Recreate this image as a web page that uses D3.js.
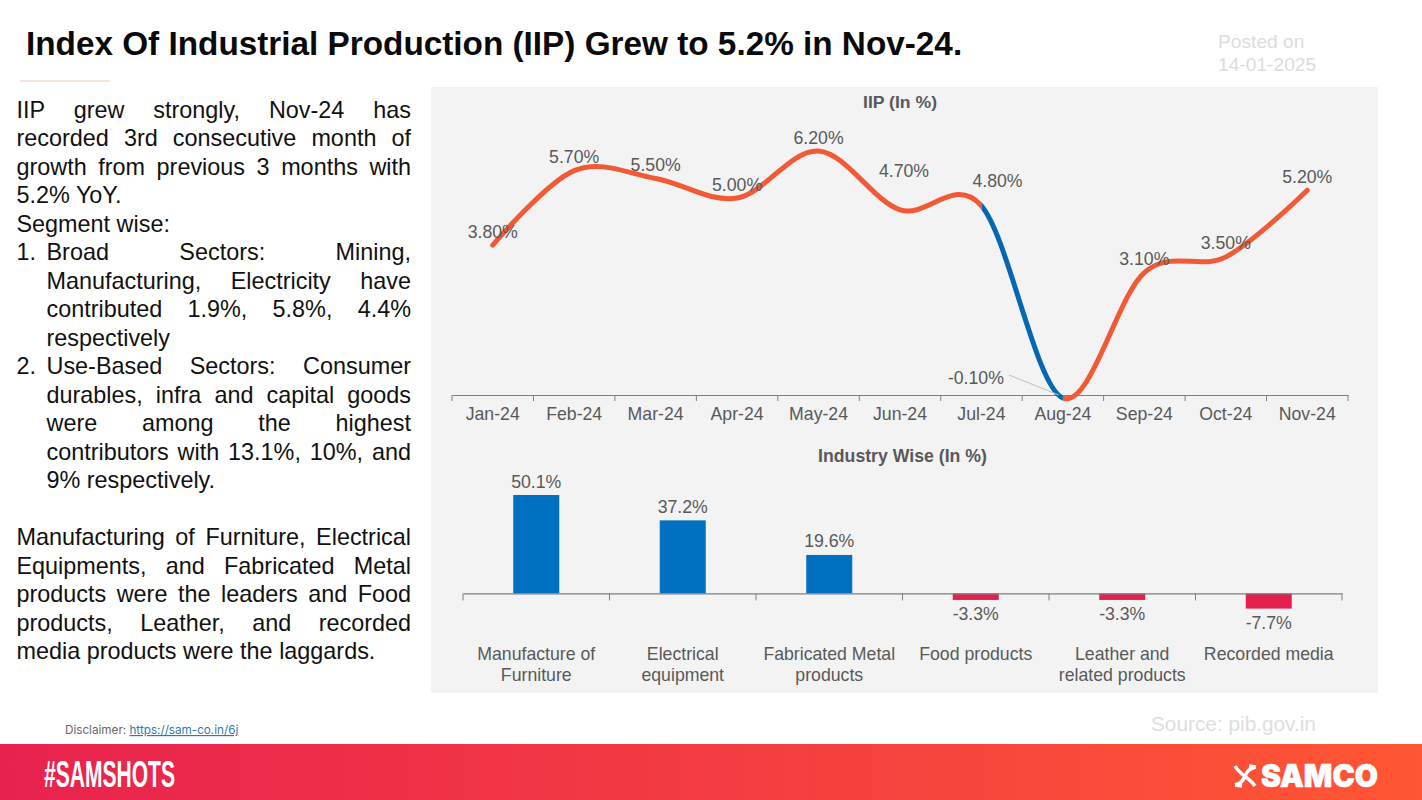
<!DOCTYPE html>
<html><head><meta charset="utf-8">
<script src="https://cdnjs.cloudflare.com/ajax/libs/d3/7.8.5/d3.min.js"></script>
<style>
html,body{margin:0;padding:0;background:#fff;width:1422px;height:800px;overflow:hidden}
#wrap{position:relative;width:1422px;height:800px}
svg{position:absolute;left:0;top:0}
#note{position:absolute;left:16.5px;top:95.5px;width:394.5px;font:23.4px/28.5px "Liberation Sans",Arial,sans-serif;color:#111;text-align:justify}
#note .li{position:relative;padding-left:30px}
#note .li b{position:absolute;left:0;font-weight:400}
#note .gap{height:28.5px}
text{font-family:"Liberation Sans",Arial,sans-serif}
</style></head><body><div id="wrap"><svg id="s" width="1422" height="800"></svg><div id="note"></div></div>
<script>
const months=["Jan-24","Feb-24","Mar-24","Apr-24","May-24","Jun-24","Jul-24","Aug-24","Sep-24","Oct-24","Nov-24"];
const iip=[3.8,5.7,5.5,5.0,6.2,4.7,4.8,-0.1,3.1,3.5,5.2];
const industries=[["Manufacture of","Furniture"],["Electrical","equipment"],["Fabricated Metal","products"],["Food products"],["Leather and","related products"],["Recorded media"]];
const industryGrowth=[50.1,37.2,19.6,-3.3,-3.3,-7.7];
const intro=["IIP grew strongly, Nov-24 has recorded 3rd consecutive month of growth from previous 3 months with 5.2% YoY.","Segment wise:"];
const points=["Broad Sectors: Mining, Manufacturing, Electricity have contributed 1.9%, 5.8%, 4.4% respectively","Use-Based Sectors: Consumer durables, infra and capital goods were among the highest contributors with 13.1%, 10%, and 9% respectively."];
const closing="Manufacturing of Furniture, Electrical Equipments, and Fabricated Metal products were the leaders and Food products, Leather, and recorded media products were the laggards.";

const svg=d3.select("#s");
const grey="#595959";
const chartFont=17.7;
const defs=svg.append("defs");
const g=defs.append("linearGradient").attr("id","foot");
g.append("stop").attr("offset","0").attr("stop-color","#e8224f");
g.append("stop").attr("offset","1").attr("stop-color","#ff5634");

// header
svg.append("text").attr("x",26).attr("y",54.5).attr("font-size",33.3).attr("font-weight",700).attr("fill","#0a0a0a").text("Index Of Industrial Production (IIP) Grew to 5.2% in Nov-24.");
svg.append("line").attr("x1",20).attr("x2",110).attr("y1",81).attr("y2",81).attr("stroke","#f6c9bd").attr("stroke-width",1);
[["Posted on",48],["14-01-2025",71]].forEach(([t,y])=>svg.append("text").attr("x",1218).attr("y",y).attr("font-size",19.2).attr("fill","#dcdcdc").text(t));

// left text
const note=d3.select("#note");
intro.forEach(t=>note.append("div").text(t));
points.forEach((t,i)=>{const d=note.append("div").attr("class","li");d.append("b").text((i+1)+".");d.append("span").text(t);});
note.append("div").attr("class","gap");
note.append("div").text(closing);

// panel
svg.append("rect").attr("x",431).attr("y",87).attr("width",947).attr("height",606).attr("fill","#f3f3f3");

// line chart
const x=d3.scaleBand().domain(months).range([452,1348]);
const y=d3.scaleLinear().domain([-0.1,6.2]).range([398,151]);
const at=(m)=>x(m)+x.bandwidth()/2;
svg.append("text").attr("x",900).attr("y",107.5).attr("text-anchor","middle").attr("font-weight",700).attr("fill",grey).text("IIP (In %)").attr("font-size",16).attr("textLength",74).attr("lengthAdjust","spacingAndGlyphs");
const ax=svg.append("g").attr("transform","translate(0,395)").call(d3.axisBottom(x).tickSize(0).tickPadding(12));
ax.selectAll("text").attr("font-size",chartFont).attr("fill",grey).attr("font-family","Liberation Sans");
ax.select(".domain").attr("stroke","#7f7f7f").attr("stroke-width",1.2);
ax.selectAll(".edge").data([...months.map(m=>x(m)),x.range()[1]]).enter().append("line").attr("class","edge").attr("x1",d=>d).attr("x2",d=>d).attr("y1",0).attr("y2",6).attr("stroke","#7f7f7f").attr("stroke-width",1);

const pts=months.map((m,i)=>[at(m),y(iip[i])]);
const lineGen=d3.line().curve(d3.curveCatmullRom.alpha(0));
const jul=months.indexOf("Jul-24"),aug=months.indexOf("Aug-24");
const julX=pts[jul][0],augX=pts[aug][0];
defs.append("clipPath").attr("id","dip").append("rect").attr("x",julX).attr("y",0).attr("width",augX-julX).attr("height",800);
const rest=defs.append("clipPath").attr("id","rest");
rest.append("rect").attr("x",0).attr("y",0).attr("width",julX).attr("height",800);
rest.append("rect").attr("x",augX).attr("y",0).attr("width",1422-augX).attr("height",800);
svg.append("path").attr("d",lineGen(pts)).attr("fill","none").attr("stroke","#f15a35").attr("stroke-width",5).attr("stroke-linecap","round").attr("clip-path","url(#rest)");
svg.append("path").attr("d",lineGen(pts)).attr("fill","none").attr("stroke","#0567b1").attr("stroke-width",5).attr("clip-path","url(#dip)");

// leader for the dip label
const labelShift={"Jun-24":[4,-39],"Jul-24":[16,-25],"Aug-24":[-87,-21]};
svg.append("line").attr("x1",pts[aug][0]-54).attr("y1",pts[aug][1]-23).attr("x2",pts[aug][0]-4).attr("y2",pts[aug][1]-3).attr("stroke","#bfbfbf").attr("stroke-width",1);
svg.append("g").selectAll("text").data(iip).enter().append("text")
 .attr("x",(d,i)=>pts[i][0]+(labelShift[months[i]]||[0,-14])[0])
 .attr("y",(d,i)=>pts[i][1]+(labelShift[months[i]]||[0,-14])[1]+6.5)
 .attr("text-anchor","middle").attr("font-size",chartFont).attr("fill",grey).text(d=>d.toFixed(2)+"%");

// bars
const bx=d3.scaleBand().domain(industries.map(d=>d.join(" "))).range([463,1342]);
const by=d3.scaleLinear().domain([-7.7,50.1]).range([608.6,495]);
svg.append("text").attr("x",902.5).attr("y",462).attr("text-anchor","middle").attr("font-size",chartFont).attr("font-weight",700).attr("fill",grey).text("Industry Wise (In %)");
const barW=46;
svg.append("g").selectAll("rect").data(industryGrowth).enter().append("rect")
 .attr("x",(d,i)=>bx(industries[i].join(" "))+bx.bandwidth()/2-barW/2)
 .attr("y",d=>by(Math.max(d,0))).attr("width",barW)
 .attr("height",d=>Math.abs(by(d)-by(0)))
 .attr("fill",d=>d>=0?"#0070c0":"#e4204f");
const bax=svg.append("g").attr("transform",`translate(0,${by(0)})`).call(d3.axisBottom(bx).tickSize(0).tickFormat(""));
bax.select(".domain").attr("stroke","#7f7f7f").attr("stroke-width",1.2);
bax.selectAll(".edge").data([...bx.domain().map(c=>bx(c)),bx.range()[1]]).enter().append("line").attr("class","edge").attr("x1",d=>d).attr("x2",d=>d).attr("y1",0).attr("y2",7).attr("stroke","#7f7f7f");
svg.append("g").selectAll("text").data(industryGrowth).enter().append("text")
 .attr("x",(d,i)=>bx(industries[i].join(" "))+bx.bandwidth()/2)
 .attr("y",d=>d>=0?by(d)-7.5:by(d)+20.5)
 .attr("text-anchor","middle").attr("font-size",chartFont).attr("fill",grey).text(d=>d.toFixed(1)+"%");
industries.forEach(lines=>{lines.forEach((t,j)=>{
 svg.append("text").attr("x",bx(lines.join(" "))+bx.bandwidth()/2).attr("y",660+j*21).attr("text-anchor","middle").attr("font-size",chartFont).attr("fill",grey).text(t);
});});

// footer
svg.append("text").attr("x",1151).attr("y",731).attr("font-size",20.8).attr("fill","#dedede").text("Source: pib.gov.in");
const dis=svg.append("text").attr("x",65).attr("y",734).attr("font-size",11.7).style("font-family","Inter").attr("fill","#666");
dis.append("tspan").text("Disclaimer: ");
dis.append("tspan").attr("fill","#2f7ba8").attr("text-decoration","underline").text("https://sam-co.in/6j");
svg.append("rect").attr("x",0).attr("y",744).attr("width",1422).attr("height",56).attr("fill","url(#foot)");
svg.append("text").attr("x",44).attr("y",787).attr("font-size",36).attr("font-weight",700).style("font-family","'Liberation Sans Narrow','Liberation Sans'").attr("fill","#fff").attr("textLength",131).attr("lengthAdjust","spacingAndGlyphs").text("#SAMSHOTS");
svg.append("text").attr("x",1261).attr("y",786.5).attr("font-size",31).attr("font-weight",900).style("font-family","Inter").attr("fill","#fff").attr("stroke","#fff").attr("stroke-width",0.6).attr("textLength",117).attr("lengthAdjust","spacingAndGlyphs").text("SAMCO");
const mk=svg.append("g").attr("fill","none").attr("stroke","#fff").attr("stroke-width",3.6);
mk.append("path").attr("d","M1235 766 C1240 775 1250 778 1255 786");
mk.append("path").attr("d","M1256 767 C1250 768 1247 771 1245 776 C1243 781 1240 784 1235 785");
mk.append("path").attr("d","M1249 766 L1256 767");
mk.append("path").attr("d","M1235 785 L1242 786");
</script></body></html>
